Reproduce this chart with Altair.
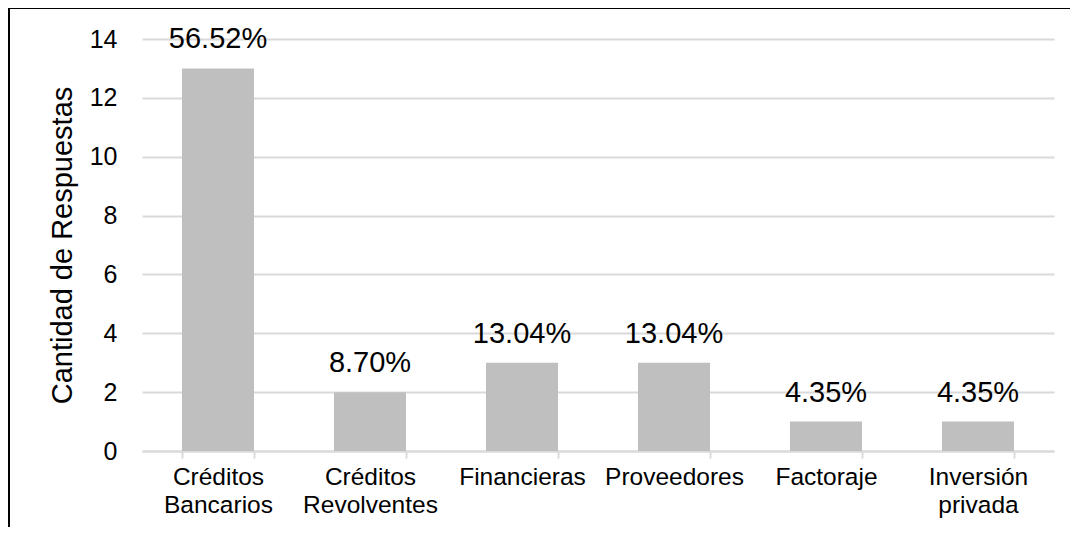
import altair as alt
import pandas as pd

categories = ["Créditos Bancarios", "Créditos Revolventes", "Financieras",
              "Proveedores", "Factoraje", "Inversión privada"]
counts = [13, 2, 3, 3, 1, 1]
pct_labels = ["56.52%", "8.70%", "13.04%", "13.04%", "4.35%", "4.35%"]
y_ticks = [0, 2, 4, 6, 8, 10, 12, 14]

df = pd.DataFrame({"cat": categories, "n": counts, "pct": pct_labels})

FONT = "Liberation Sans"
GRID = "#d9d9d9"

x = alt.X("cat:N", sort=categories, title=None,
          scale=alt.Scale(paddingInner=0.526, paddingOuter=0.263),
          axis=alt.Axis(labelAngle=0, labelFont=FONT, labelFontSize=24.5,
                        labelColor="#000000", labelExpr="split(datum.label, ' ')",
                        labelLineHeight=28, labelPadding=7,
                        domainColor=GRID, domainWidth=2, tickColor=GRID,
                        tickWidth=2, tickSize=7, tickBand="extent", grid=False))
y = alt.Y("n:Q", title="Cantidad de Respuestas",
          scale=alt.Scale(domain=[0, 14], nice=False),
          axis=alt.Axis(values=y_ticks, domain=False, ticks=False,
                        labelFont=FONT, labelFontSize=25, labelColor="#000000",
                        labelPadding=25, gridColor=GRID, gridWidth=2,
                        titleFont=FONT, titleFontSize=29, titleFontWeight="normal",
                        titleColor="#000000", titlePadding=12))

base = alt.Chart(df)
bars = base.mark_bar(color="#bfbfbf").encode(x=x, y=y)
labels = base.mark_text(font=FONT, fontSize=29, color="#000000",
                        baseline="alphabetic", dy=-20).encode(
    x=alt.X("cat:N", sort=categories), y="n:Q", text="pct:N")

border_top = alt.Chart(df).mark_rule(color="#000000", strokeWidth=2).encode(
    x=alt.value(-134), x2=alt.value(940), y=alt.value(-31))
border_left = alt.Chart(df).mark_rule(color="#000000", strokeWidth=2).encode(
    x=alt.value(-133), y=alt.value(-32), y2=alt.value(500))

chart = alt.layer(bars, labels, border_top, border_left).properties(
    width=912, height=412,
    background="#ffffff",
    autosize=alt.AutoSizeParams(type="none"),
    padding={"left": 134, "top": 31, "right": 16, "bottom": 76},
).configure_view(stroke=None)

chart.save("out.html", embed_options={"renderer": "svg", "actions": False})
